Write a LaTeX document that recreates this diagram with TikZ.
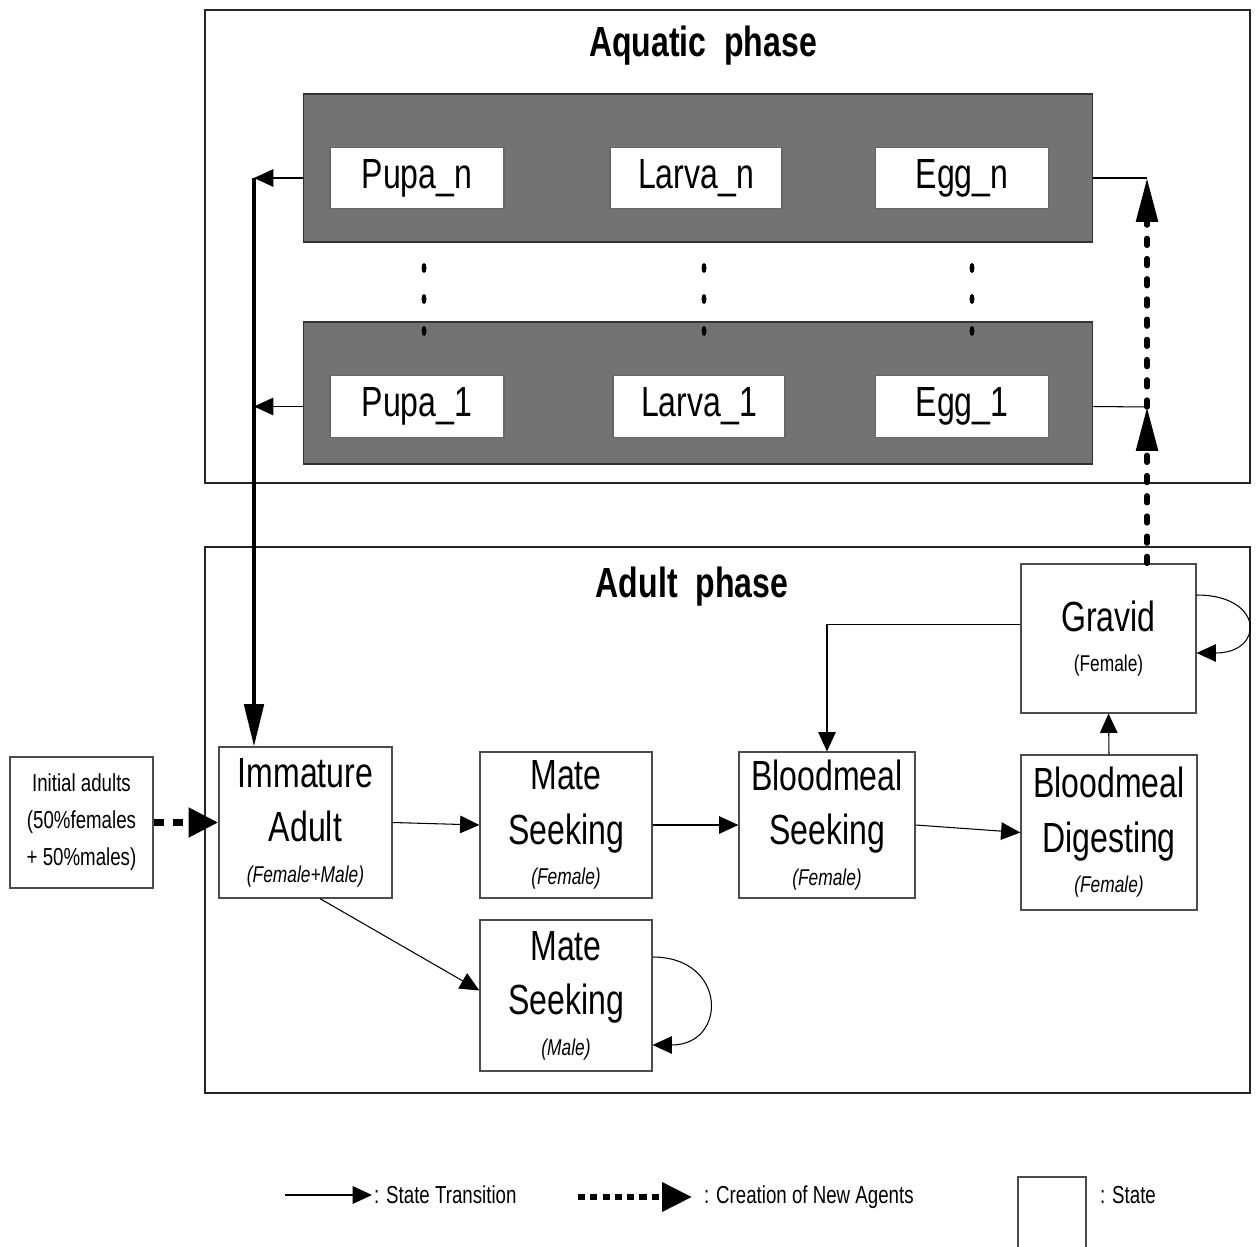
\documentclass[tikz,border=0pt]{standalone}
\usepackage{fontspec}
\setmainfont{Liberation Sans}[FakeStretch=0.76]
\usetikzlibrary{arrows.meta, positioning}

\newcommand{\statefont}{\fontsize{24}{31}\selectfont}
\newcommand{\subfont}{\fontsize{13}{16}\selectfont}
\newcommand{\legendfont}{\fontsize{14}{16}\selectfont}

\begin{document}
\begin{tikzpicture}[x=0.02cm, y=-0.02cm,
  phasebox/.style={draw=black!85, line width=1.6pt},
  band/.style={draw=black!80, fill=black!55, line width=0.6pt, inner sep=0pt, minimum width=15.8cm},
  stage/.style={draw=black!60, fill=white, line width=0.8pt, inner sep=0pt, font=\statefont, minimum height=1.23cm},
  state/.style={draw=black!70, fill=white, line width=0.7pt, inner sep=0pt, align=center, font=\statefont},
  title/.style={font=\statefont\bfseries},
  trans/.style={-{Triangle[length=11pt,width=10pt]}, line width=0.6pt},
  feed/.style={-{Triangle[length=24pt,width=11pt]}, line width=2.2pt},
  newagent/.style={-{Triangle[length=25pt,width=12pt]}, line width=3pt, line cap=round, dash pattern=on 4pt off 7.5pt},
  initarrow/.style={-{Triangle[length=17pt,width=16pt]}, line width=4.5pt, dash pattern=on 6pt off 5pt}]
  \useasboundingbox (0,0) rectangle (1259,1247);

  % Aquatic phase
  \draw[phasebox] (205,10) rectangle (1250,483);
  \node[title] (aquatic) at (703,46) {Aquatic\ \ phase};
  \node[band, minimum height=2.96cm] (bandN) at (698,168) {};
  \node[band, minimum height=2.84cm] (band1) at (698,393) {};

  \node[stage, minimum width=3.48cm] (pupaN)  at (417,178) {Pupa\_n};
  \node[stage, minimum width=3.44cm] (larvaN) at (696,178) {Larva\_n};
  \node[stage, minimum width=3.46cm] (eggN)   at (962,178) {Egg\_n};
  \node[stage, minimum width=3.48cm] (pupa1)  at (417,406.5) {Pupa\_1};
  \node[stage, minimum width=3.44cm] (larva1) at (699,406.5) {Larva\_1};
  \node[stage, minimum width=3.46cm] (egg1)   at (962,406.5) {Egg\_1};

  % vertical dots between the bands
  \foreach \x in {424, 704, 972}
    \foreach \y in {268, 299, 331}
      \fill (\x,\y) ellipse (2.5 and 5);

  % Adult phase
  \draw[phasebox] (205,547) rectangle (1250,1093);
  \node[title] (adult) at (692,587) {Adult\ \ phase};

  \node[state, minimum width=3.46cm, minimum height=3.02cm] (imm) at (305.5,822.5)
    {Immature\\Adult\\[-8pt]{\subfont\itshape (Female+Male)}};
  \node[state, minimum width=3.44cm, minimum height=2.92cm] (mateF) at (566,825)
    {Mate\\Seeking\\[-8pt]{\subfont\itshape (Female)}};
  \node[state, minimum width=3.52cm, minimum height=2.92cm] (bloodS) at (827,825)
    {Bloodmeal\\Seeking\\[-8pt]{\subfont\itshape (Female)}};
  \node[state, minimum width=3.52cm, minimum height=3.10cm] (bloodD) at (1109,832.5)
    {Bloodmeal\\Digesting\\[-8pt]{\subfont\itshape (Female)}};
  \node[state, minimum width=3.50cm, minimum height=2.98cm] (gravid) at (1108.5,638.5)
    {Gravid\\[-8pt]{\subfont (Female)}};
  \node[state, minimum width=3.44cm, minimum height=3.02cm] (mateM) at (566,995.5)
    {Mate\\Seeking\\[-8pt]{\subfont\itshape (Male)}};
  \node[state, minimum width=2.86cm, minimum height=2.62cm, font=\fontsize{14}{21}\selectfont] (init) at (81.5,822.5)
    {Initial adults\\(50\%females\\+ 50\%males)};

  % pupae emerge as immature adults
  \coordinate (jn) at (254,178);
  \draw[trans] (bandN.west |- pupaN) -- (jn);
  \draw[trans] (band1.west |- pupa1) -- (pupa1 -| jn);
  \draw[feed] (jn) -- (imm.north -| jn);

  % gravid females lay eggs
  \coordinate (en) at (1147,178);
  \coordinate (e1) at (1147,407);
  \draw[line width=0.6pt] (bandN.east |- eggN) -- (en);
  \draw[line width=0.6pt] (band1.east |- egg1) -- (e1);
  \draw[newagent] (gravid.north -| e1) -- (e1);
  \draw[newagent] (e1) -- (en);

  % state transitions
  \draw[initarrow] (init.east) -- (imm.west);
  \draw[trans] (imm.east) -- (mateF.west);
  \draw[trans] (mateF.east) -- (bloodS.west);
  \draw[trans] (bloodS.east) -- (bloodD.west);
  \draw[trans] (bloodD.north) -- (gravid.south);
  \draw[trans] ([yshift=0.28cm]gravid.west) -| (bloodS.north);
  \draw[trans] ([xshift=0.29cm]imm.south) -- ([yshift=0.1cm]mateM.west);
  \draw[trans] ([yshift=0.87cm]gravid.east) .. controls +(68,0) and +(68,0) .. ([yshift=-0.29cm]gravid.east);
  \draw[trans] ([yshift=0.77cm]mateM.east) .. controls +(75,0) and +(75,0) .. ([yshift=-0.99cm]mateM.east);

  % Legend
  \coordinate (la) at (285,1195);
  \coordinate (lb) at (372,1195);
  \draw[trans] (la) -- (lb);
  \node[anchor=west, inner sep=1pt, font=\legendfont] (ttrans) at (lb) {: State Transition};
  \coordinate (lc) at (578,1197);
  \coordinate (ld) at (692,1197);
  \draw[initarrow, line width=3.5pt, dash pattern=on 4pt off 3pt] (lc) -- (ld);
  \node[anchor=west, inner sep=1pt, font=\legendfont] (tnew) at (702,1197) {: Creation of New Agents};
  \draw[line width=0.7pt, draw=black!70] (1018,1260) |- (1086,1177) -- (1086,1260);
  \node[anchor=west, inner sep=1pt, font=\legendfont] (tstate) at (1098,1195) {: State};
\end{tikzpicture}
\end{document}
